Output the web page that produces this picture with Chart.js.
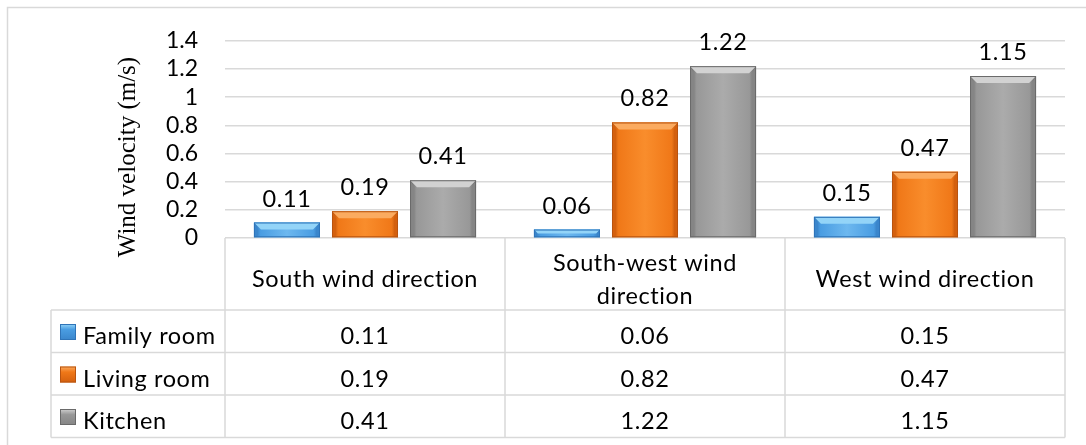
<!DOCTYPE html>
<html><head><meta charset="utf-8">
<script src="https://cdn.jsdelivr.net/npm/chart.js@4/dist/chart.umd.min.js"></script>
<style>html,body{margin:0;padding:0;background:#fff;}#wrap{width:1086px;height:445px;position:relative;}</style>
</head><body><div id="wrap"><canvas id="c" width="1086" height="445"></canvas></div>
<script>
// ---- data ----
const categories = [["South wind direction"], ["South-west wind", "direction"], ["West wind direction"]];
const seriesNames = ["Family room", "Living room", "Kitchen"];
const familyRoom = [0.11, 0.06, 0.15];
const livingRoom = [0.19, 0.82, 0.47];
const kitchen = [0.41, 1.22, 1.15];
const yTickValues = [0, 0.2, 0.4, 0.6, 0.8, 1, 1.2, 1.4];
const yTitle = "Wind velocity (m/s)";

// ---- styles ----
const palettes = [
  {edge: '#2f74b8', mid: '#4a9de2', light: '#6db8ef', top: '#93d4f8', bottom: '#3a86cc'},
  {edge: '#b85410', mid: '#f07818', light: '#f98d2c', top: '#fbab60', bottom: '#d4600e'},
  {edge: '#6a6a6a', mid: '#989898', light: '#ababab', top: '#d2d2d2', bottom: '#858585'}
];
const FONT = 'Lato, "Open Sans", sans-serif';
const TXT = '23.5px ' + FONT;
const gridColor = '#d9d9d9';

const seriesData = [familyRoom, livingRoom, kitchen];

function setText(ctx) {
  ctx.font = TXT;
  ctx.fillStyle = '#000';
  try { ctx.letterSpacing = '0.6px'; } catch (e) {}
}

const decorPlugin = {
  id: 'decor',
  beforeDraw(chart) {
    const ctx = chart.ctx;
    ctx.save();
    ctx.strokeStyle = gridColor; ctx.lineWidth = 1.5;
    ctx.strokeRect(7.5, 7.5, 1300, 1000);
    ctx.restore();
  },
  afterDatasetsDraw(chart) {
    const ctx = chart.ctx;
    ctx.save();
    chart.data.datasets.forEach((ds, d) => {
      const pal = palettes[d];
      const meta = chart.getDatasetMeta(d);
      meta.data.forEach((bar, i) => {
        const p = bar.getProps(['x', 'y', 'base', 'width'], true);
        const l = p.x - p.width / 2, r = p.x + p.width / 2, t = p.y, b = p.base;
        const h = b - t;
        const bv = Math.min(7, h / 2);
        const g = ctx.createLinearGradient(l, 0, r, 0);
        g.addColorStop(0, pal.edge); g.addColorStop(0.1, pal.mid);
        g.addColorStop(0.5, pal.light); g.addColorStop(0.9, pal.mid); g.addColorStop(1, pal.edge);
        ctx.fillStyle = g; ctx.fillRect(l, t, p.width, h);
        // top bevel
        ctx.fillStyle = pal.top;
        ctx.beginPath(); ctx.moveTo(l, t); ctx.lineTo(r, t); ctx.lineTo(r - bv, t + bv); ctx.lineTo(l + bv, t + bv); ctx.closePath(); ctx.fill();
        // side bevels
        ctx.fillStyle = pal.bottom;
        ctx.beginPath(); ctx.moveTo(r, t); ctx.lineTo(r, b); ctx.lineTo(r - bv * 0.6, b - bv * 0.3); ctx.lineTo(r - bv * 0.6, t + bv); ctx.closePath(); ctx.fill();
        ctx.beginPath(); ctx.moveTo(l, t); ctx.lineTo(l, b); ctx.lineTo(l + bv * 0.6, b - bv * 0.3); ctx.lineTo(l + bv * 0.6, t + bv); ctx.closePath(); ctx.fill();
        ctx.strokeStyle = pal.edge; ctx.lineWidth = 1;
        ctx.strokeRect(l + 0.5, t + 0.5, p.width - 1, h - 1);
        // value label
        setText(ctx);
        ctx.textAlign = 'center'; ctx.textBaseline = 'alphabetic';
        ctx.fillText(ds.data[i].toFixed(2), p.x, t - 16);
      });
    });
    ctx.restore();
  },
  afterDraw(chart) {
    const ctx = chart.ctx;
    const xs = chart.scales.x;
    const area = chart.chartArea;
    const top = area.bottom;           // table starts at the zero line
    const headerBottom = top + 72;
    const rowH = 42.5;
    const tableLeft = 51;
    const colW = (area.right - area.left) / categories.length;
    ctx.save();
    ctx.strokeStyle = gridColor; ctx.lineWidth = 1.5;
    for (let k = 0; k <= categories.length; k++) {
      const x = area.left + k * colW;
      ctx.beginPath(); ctx.moveTo(x, top); ctx.lineTo(x, headerBottom + rowH * 3); ctx.stroke();
    }
    ctx.beginPath(); ctx.moveTo(tableLeft, headerBottom); ctx.lineTo(tableLeft, headerBottom + rowH * 3); ctx.stroke();
    for (let r = 0; r <= 3; r++) {
      const y = headerBottom + r * rowH;
      ctx.beginPath(); ctx.moveTo(tableLeft, y); ctx.lineTo(area.right, y); ctx.stroke();
    }
    // header text
    setText(ctx); ctx.textAlign = 'center'; ctx.textBaseline = 'alphabetic';
    chart.data.labels.forEach((lab, i) => {
      const lines = Array.isArray(lab) ? lab : [lab];
      const cx = xs.getPixelForValue(i);
      const lh = 33;
      const first = top + 49 - (lines.length - 1) * lh / 2;
      lines.forEach((ln, j) => ctx.fillText(ln, cx, first + j * lh));
    });
    // rows
    chart.data.datasets.forEach((ds, d) => {
      const rowTop = headerBottom + d * rowH;
      const base = rowTop + 34;
      const pal = palettes[d];
      const mx = 60, my = rowTop + 14, ms = 16;
      const g = ctx.createLinearGradient(mx, my, mx, my + ms);
      g.addColorStop(0, pal.top); g.addColorStop(0.35, pal.mid); g.addColorStop(1, pal.bottom);
      ctx.fillStyle = g; ctx.fillRect(mx, my, ms, ms);
      ctx.strokeStyle = pal.edge; ctx.lineWidth = 1; ctx.strokeRect(mx + 0.5, my + 0.5, ms - 1, ms - 1);
      setText(ctx); ctx.textAlign = 'left';
      ctx.fillText(ds.label, 83, base);
      ctx.textAlign = 'center';
      ds.data.forEach((v, i) => ctx.fillText(v.toFixed(2), xs.getPixelForValue(i), base));
    });
    // y title
    ctx.save();
    try { ctx.letterSpacing = '0px'; } catch (e) {}
    ctx.translate(128, 157); ctx.rotate(-Math.PI / 2);
    ctx.font = '25px "Liberation Serif", "Times New Roman", serif';
    ctx.textAlign = 'center'; ctx.textBaseline = 'middle'; ctx.fillStyle = '#000';
    ctx.fillText(yTitle, 0, 0);
    ctx.restore();
    ctx.restore();
  }
};

new Chart(document.getElementById('c'), {
  type: 'bar',
  data: {
    labels: categories,
    datasets: seriesNames.map((n, d) => ({
      label: n, data: seriesData[d], backgroundColor: palettes[d].mid,
      borderWidth: 0, categoryPercentage: 0.836, barPercentage: 0.846
    }))
  },
  options: {
    responsive: false, animation: false,
    layout: {padding: {left: 0, top: 35, right: 21, bottom: 207}},
    plugins: {legend: {display: false}, tooltip: {enabled: false}},
    scales: {
      x: {display: false},
      y: {
        min: 0, max: 1.4,
        afterFit(s) { s.width = 225; },
        afterBuildTicks(s) { s.ticks = yTickValues.map(v => ({value: v})); },
        grid: {color: gridColor, lineWidth: 1.5, drawTicks: false},
        border: {display: false},
        ticks: {padding: 27, color: '#000', autoSkip: false, font: {family: FONT, size: 23},
          callback: v => String(Math.round(v * 10) / 10)}
      }
    }
  },
  plugins: [decorPlugin]
});
</script>
</body></html>
